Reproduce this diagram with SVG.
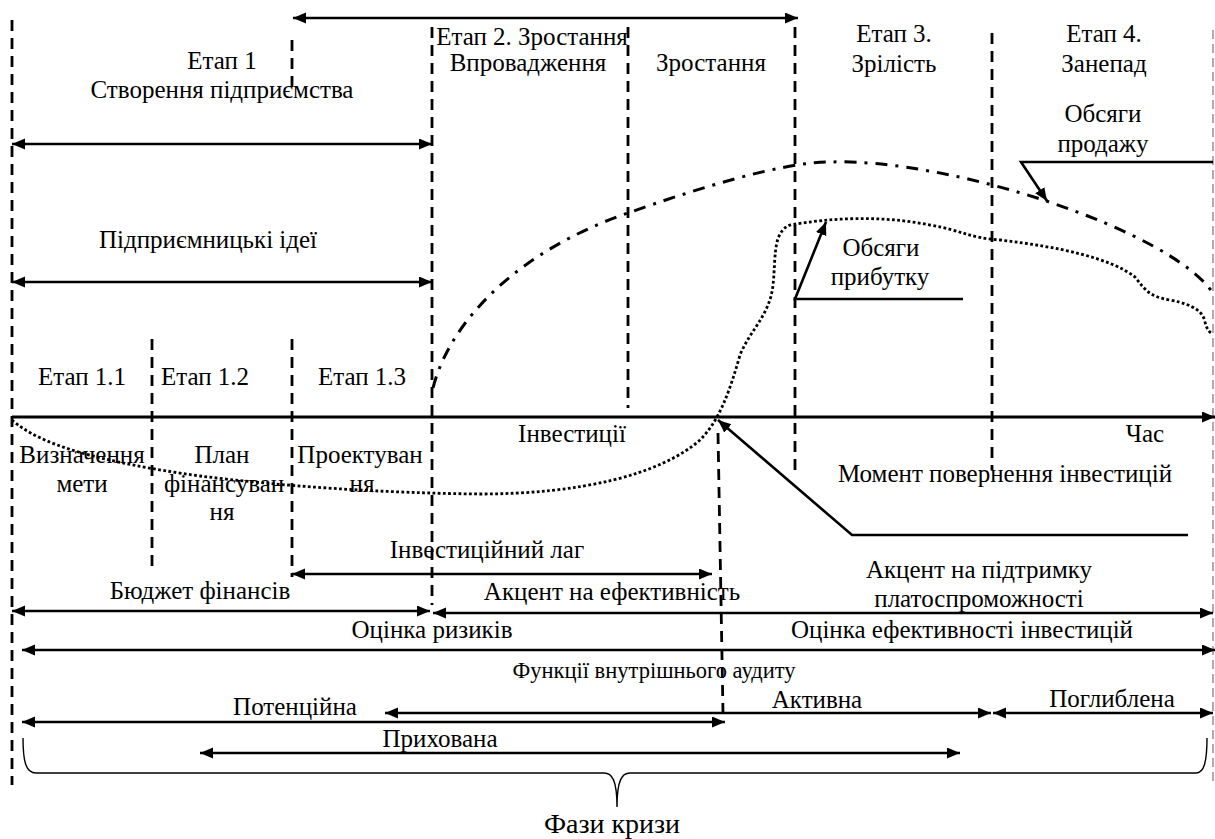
<svg xmlns="http://www.w3.org/2000/svg" width="1215" height="839" viewBox="0 0 1215 839">
<defs>
<marker id="ah" markerUnits="userSpaceOnUse" markerWidth="14" markerHeight="12" refX="13" refY="5.5" orient="auto-start-reverse"><path d="M0,0 L13,5.5 L0,11 z" fill="#000"/></marker>
<style>
text{font-size:25px;fill:#000;text-anchor:middle}
.sm{font-size:22.5px}
.big{font-size:28px}
.arr{stroke:#000;stroke-width:2.6;fill:none;marker-start:url(#ah);marker-end:url(#ah)}
.ptr{stroke:#000;stroke-width:2.6;fill:none;marker-end:url(#ah)}
.vd{stroke:#000;stroke-width:2.8;stroke-dasharray:11 7;fill:none}
.vg{stroke:#8a8a8a;stroke-width:1.4;stroke-dasharray:9 5;fill:none}
.axis{stroke:#000;stroke-width:2.8;fill:none;marker-end:url(#ah)}
.dd{stroke:#000;stroke-width:3;stroke-dasharray:12 8 3 8;fill:none}
.dot{stroke:#000;stroke-width:2.8;stroke-dasharray:2.8 2.4;fill:none}
.brace{stroke:#000;stroke-width:1.4;fill:none}
</style>
</defs>
<rect width="1215" height="839" fill="#fff"/>

<g id="guides">
<line class="vd" x1="12" y1="20" x2="12" y2="785"/>
<line class="vd" x1="292" y1="40" x2="292" y2="93"/>
<line class="vd" x1="292" y1="339" x2="292" y2="577"/>
<line class="vd" x1="152" y1="339" x2="152" y2="568"/>
<line class="vd" x1="432" y1="27" x2="432" y2="605"/>
<line class="vd" x1="628" y1="27" x2="628" y2="408"/>
<line class="vd" x1="795" y1="27" x2="795" y2="470"/>
<line class="vd" x1="992" y1="33" x2="992" y2="470"/>
<line class="vd" x1="718" y1="433" x2="723" y2="713"/>
<line class="vg" x1="1213" y1="30" x2="1213" y2="785"/>
</g>

<g id="curves">
<path class="dd" d="M433,388 C450,320 520,250 628,213 C690,191 780,162 830,162 C950,158 1170,230 1213,293"/>
<path class="dot" d="M12,420 C40,445 100,462 200,476 C280,486 380,493 480,494 C580,494 660,475 700,440 C720,420 730,390 740,355 C750,330 770,315 773,285 C776,260 772,232 790,225 C830,218 880,215 930,225 C960,230 970,238 1000,240 C1060,247 1110,258 1135,277 C1145,290 1150,297 1170,300 C1195,305 1203,312 1205,322 C1207,330 1210,333 1213,334"/>
</g>

<g id="connectors">
<line class="arr" x1="293" y1="18" x2="798" y2="18"/>
<line class="arr" x1="12" y1="144" x2="432" y2="144"/>
<line class="arr" x1="12" y1="282" x2="432" y2="282"/>
<line class="axis" x1="12" y1="417" x2="1215" y2="417"/>
<line class="arr" x1="292" y1="574" x2="712" y2="574"/>
<line class="arr" x1="12" y1="611" x2="430" y2="611"/>
<line class="arr" x1="433" y1="613" x2="1213" y2="613"/>
<line class="arr" x1="22" y1="650" x2="1215" y2="650"/>
<line class="arr" x1="385" y1="713" x2="991" y2="713"/>
<line class="arr" x1="993" y1="713" x2="1213" y2="713"/>
<line class="arr" x1="22" y1="722" x2="725" y2="722"/>
<line class="arr" x1="200" y1="753" x2="960" y2="753"/>
<polyline class="ptr" points="1213,162 1021,162 1047,201"/>
<polyline class="ptr" points="963,299 795,299 826,222"/>
<polyline class="ptr" points="1188,535 852,535 718,420"/>
<path class="brace" d="M23,738 C23,762 26,773 36,773 L604,773 C612,773 617,780 617,807 C617,780 622,773 630,773 L1196,773 C1204,773 1207,762 1207,738"/>
</g>

<g font-family="'Liberation Serif', 'Times New Roman', 'DejaVu Serif', serif">
<g id="stage1"><text x="222" y="69">Етап 1</text><text x="222" y="98">Створення підприємства</text></g>
<g id="ideas"><text x="208" y="248">Підприємницькі ідеї</text></g>
<g id="stage2"><text x="532" y="45">Етап 2. Зростання</text><text x="528" y="71">Впровадження</text></g>
<g id="growth"><text x="711" y="71">Зростання</text></g>
<g id="stage3"><text x="894" y="42">Етап 3.</text><text x="894" y="72">Зрілість</text></g>
<g id="stage4"><text x="1104" y="42">Етап 4.</text><text x="1104" y="72">Занепад</text></g>
<g id="sales"><text x="1103" y="122">Обсяги</text><text x="1103" y="152">продажу</text></g>
<g id="profit"><text x="881" y="256">Обсяги</text><text x="880" y="285">прибутку</text></g>
<g id="stage11"><text x="82" y="385">Етап 1.1</text></g>
<g id="stage12"><text x="205" y="385">Етап 1.2</text></g>
<g id="stage13"><text x="362" y="385">Етап 1.3</text></g>
<g id="goal"><text x="82" y="463">Визначення</text><text x="82" y="492">мети</text></g>
<g id="plan"><text x="222" y="463">План</text><text x="224" y="492">фінансуван</text><text x="222" y="520">ня</text></g>
<g id="design"><text x="360" y="463">Проектуван</text><text x="362" y="492">ня</text></g>
<g id="invest"><text x="572" y="442">Інвестиції</text></g>
<g id="time"><text x="1145" y="442">Час</text></g>
<g id="payback"><text x="1005" y="482">Момент повернення інвестицій</text></g>
<g id="lag"><text x="487" y="558">Інвестиційний лаг</text></g>
<g id="budget"><text x="200" y="599">Бюджет фінансів</text></g>
<g id="efficiency"><text x="612" y="600">Акцент на ефективність</text></g>
<g id="solvency"><text x="979" y="578">Акцент на підтримку</text><text x="979" y="607">платоспроможності</text></g>
<g id="risks"><text x="432" y="638">Оцінка ризиків</text></g>
<g id="effinv"><text x="962" y="638">Оцінка ефективності інвестицій</text></g>
<g id="audit"><text class="sm" x="654" y="678">Функції внутрішнього аудиту</text></g>
<g id="potential"><text x="295" y="715">Потенційна</text></g>
<g id="active"><text x="817" y="708">Активна</text></g>
<g id="deep"><text x="1112" y="707">Поглиблена</text></g>
<g id="hidden"><text x="440" y="747">Прихована</text></g>
<g id="phases"><text class="big" x="612" y="833">Фази кризи</text></g>
</g>
</svg>
